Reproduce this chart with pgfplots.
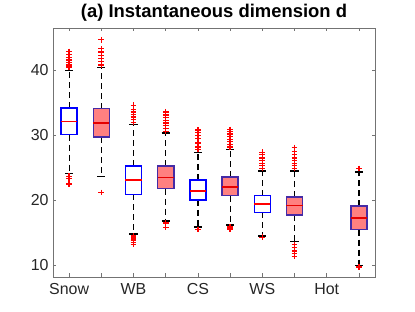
\documentclass[border=0pt]{standalone}
\usepackage{fontspec}
\setmainfont{Liberation Sans}
\usepackage{pgfplots}
\pgfplotsset{compat=1.18}
\usepgfplotslibrary{statistics}
\definecolor{mblue}{rgb}{0,0,1}
\definecolor{mred}{rgb}{1,0,0}
\definecolor{mfill}{rgb}{1,0.5,0.5}
\definecolor{medge}{rgb}{0.27,0.17,0.65}
\definecolor{axgray}{rgb}{0.15,0.15,0.15}
\pgfplotsset{
  mybox/.style n args={3}{%
    boxplot/draw direction=y,
    boxplot/box extend=0.5,
    boxplot/whisker extend=0.25,
    boxplot/every box/.style={draw=#1, fill=#2, line width=1.5bp},
    boxplot/every median/.style={draw=#3, line width=1.5bp},
    boxplot/draw/lower whisker/.code={%
      \draw[black, line width=1.2bp, dash pattern=on 6bp off 4bp]
        (boxplot box cs:\pgfplotsboxplotvalue{lower quartile},0.5) --
        (boxplot box cs:\pgfplotsboxplotvalue{lower whisker},0.5);
      \draw[black, line width=1.2bp]
        (boxplot whisker cs:\pgfplotsboxplotvalue{lower whisker},0) --
        (boxplot whisker cs:\pgfplotsboxplotvalue{lower whisker},1);
    },
    boxplot/draw/upper whisker/.code={%
      \draw[black, line width=1.2bp, dash pattern=on 6bp off 4bp]
        (boxplot box cs:\pgfplotsboxplotvalue{upper quartile},0.5) --
        (boxplot box cs:\pgfplotsboxplotvalue{upper whisker},0.5);
      \draw[black, line width=1.2bp]
        (boxplot whisker cs:\pgfplotsboxplotvalue{upper whisker},0) --
        (boxplot whisker cs:\pgfplotsboxplotvalue{upper whisker},1);
    },
    mark=+, mark size=2.9bp, mark options={draw=mred, line width=1.3bp, solid},
  },
  bluebox/.style={mybox={mblue}{white}{mred}},
  redbox/.style={mybox={medge}{mfill}{mred!90!black}},
}
\begin{document}
\begin{tikzpicture}
\useasboundingbox (-53bp,-35bp) rectangle (362bp,277bp);
\begin{axis}[
  at={(0,0)}, anchor=south west,
  scale only axis, width=322bp, height=249bp,
  xmin=0.5, xmax=10.5, ymin=8.2, ymax=46.5,
  xtick={1,2,3,4,5,6,7,8,9,10},
  xticklabels={Snow,,WB,,CS,,WS,,Hot,},
  ytick={10,20,30,40},
  tick align=inside,
  major tick length=3.5bp,
  axis line style={draw=black!55, line width=0.6bp},
  tick style={draw=black!55, line width=0.6bp},
  /pgf/number format/assume math mode=true,
  ticklabel style={font=\fontsize{16}{16}\selectfont, text=axgray},
  xticklabel style={yshift=-3bp},
  yticklabel style={xshift=-1bp},
  title={(a) Instantaneous dimension d},
  title style={font=\bfseries\fontsize{18.5}{18.5}\selectfont, at={(0.5,1)}, anchor=base, yshift=5bp},
  clip=false,
]
% Snow (blue)
\addplot[bluebox, boxplot prepared={draw position=1, lower whisker=24.1, lower quartile=30.1, median=32.15, upper quartile=34.2, upper whisker=40.0}]
  table[row sep=\\, y index=0] {data\\ 40.5\\ 40.8\\ 41.2\\ 41.6\\ 42.0\\ 42.4\\ 42.9\\ 23.7\\ 23.4\\ 22.5\\};
% Snow (red)
\addplot[redbox, boxplot prepared={draw position=2, lower whisker=23.7, lower quartile=29.7, median=31.9, upper quartile=34.1, upper whisker=40.4}]
  table[row sep=\\, y index=0] {data\\ 40.8\\ 41.3\\ 41.8\\ 42.3\\ 42.8\\ 43.3\\ 44.7\\ 21.2\\};
% WB (blue)
\addplot[bluebox, boxplot prepared={draw position=3, lower whisker=14.8, lower quartile=20.9, median=23.1, upper quartile=25.3, upper whisker=31.7}]
  table[row sep=\\, y index=0] {data\\ 32.0\\ 32.4\\ 32.8\\ 33.2\\ 33.6\\ 34.0\\ 34.6\\ 14.5\\ 14.2\\ 14.0\\ 13.8\\ 13.5\\ 13.2\\};
% WB (red)
\addplot[redbox, boxplot prepared={draw position=4, lower whisker=16.8, lower quartile=21.8, median=23.5, upper quartile=25.3, upper whisker=30.35}]
  table[row sep=\\, y index=0] {data\\ 30.6\\ 31.0\\ 31.5\\ 31.9\\ 32.3\\ 32.7\\ 33.1\\ 33.6\\ 16.5\\ 15.8\\};
% CS (blue)
\addplot[bluebox, boxplot prepared={draw position=5, lower whisker=15.9, lower quartile=20.05, median=21.4, upper quartile=23.1, upper whisker=27.4}]
  table[row sep=\\, y index=0] {data\\ 27.8\\ 28.2\\ 28.8\\ 29.5\\ 30.0\\ 30.4\\ 30.8\\ 15.5\\};
% CS (red)
\addplot[redbox, boxplot prepared={draw position=6, lower whisker=16.2, lower quartile=20.7, median=22.05, upper quartile=23.6, upper whisker=27.8}]
  table[row sep=\\, y index=0] {data\\ 28.2\\ 28.6\\ 29.0\\ 29.4\\ 29.8\\ 30.2\\ 30.6\\ 30.9\\ 15.9\\ 15.6\\};
% WS (blue)
\addplot[bluebox, boxplot prepared={draw position=7, lower whisker=14.5, lower quartile=18.15, median=19.4, upper quartile=20.7, upper whisker=24.5}]
  table[row sep=\\, y index=0] {data\\ 24.9\\ 25.3\\ 25.7\\ 26.1\\ 26.5\\ 27.0\\ 27.4\\ 14.3\\};
% WS (red)
\addplot[redbox, boxplot prepared={draw position=8, lower whisker=13.6, lower quartile=17.7, median=19.2, upper quartile=20.5, upper whisker=24.5}]
  table[row sep=\\, y index=0] {data\\ 24.9\\ 25.3\\ 25.7\\ 26.1\\ 26.5\\ 27.0\\ 27.5\\ 28.1\\ 13.2\\ 12.7\\ 12.2\\ 11.8\\ 11.4\\};
% Hot (red)
\addplot[redbox, boxplot prepared={draw position=10, lower whisker=10.0, lower quartile=15.5, median=17.3, upper quartile=19.1, upper whisker=24.35}]
  table[row sep=\\, y index=0] {data\\ 24.9\\ 9.75\\};
\end{axis}
\end{tikzpicture}
\end{document}
